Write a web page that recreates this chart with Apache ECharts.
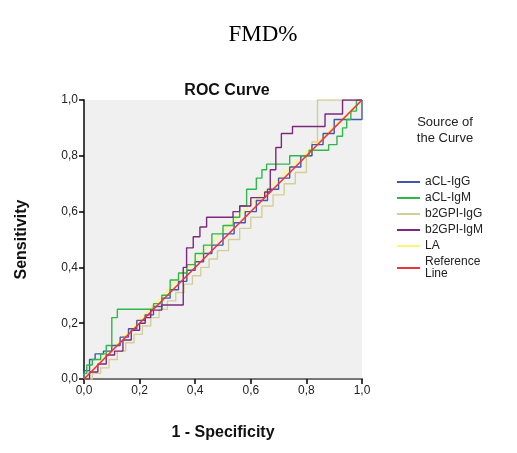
<!DOCTYPE html>
<html><head><meta charset="utf-8">
<script src="https://cdn.jsdelivr.net/npm/echarts@6/dist/echarts.min.js"></script>
<style>html,body{margin:0;padding:0;background:#fff}#c{width:517px;height:453px}</style>
</head><body><div id="c"></div>
<script>
const seriesNames = ['aCL-IgG','aCL-IgM','b2GPI-IgG','b2GPI-IgM','LA','Reference Line'];
const seriesColors = ['#3E58AC','#2EB848','#D3CE97','#7C287D','#FBF873','#EF3338'];
const tickValues = [0,0.2,0.4,0.6,0.8,1.0];

const aclIgG = [[0,0],[0,0.03],[0.02,0.03],[0.02,0.07],[0.04,0.07],[0.04,0.09],[0.07,0.09],[0.07,0.1],[0.1,0.1],[0.1,0.12],[0.13,0.12],[0.13,0.15],[0.16,0.15],[0.16,0.18],[0.19,0.18],[0.19,0.21],[0.22,0.21],[0.22,0.23],[0.25,0.23],[0.25,0.26],[0.28,0.26],[0.28,0.29],[0.31,0.29],[0.31,0.32],[0.34,0.32],[0.34,0.35],[0.37,0.35],[0.37,0.39],[0.4,0.39],[0.4,0.42],[0.43,0.42],[0.43,0.45],[0.46,0.45],[0.46,0.48],[0.5,0.48],[0.5,0.52],[0.54,0.52],[0.54,0.56],[0.58,0.56],[0.58,0.6],[0.62,0.6],[0.62,0.64],[0.66,0.64],[0.66,0.68],[0.7,0.68],[0.7,0.72],[0.74,0.72],[0.74,0.76],[0.78,0.76],[0.78,0.8],[0.82,0.8],[0.82,0.84],[0.86,0.84],[0.86,0.88],[0.9,0.88],[0.9,0.93],[1,0.93],[1,1]];
const aclIgM = [[0,0],[0,0.02],[0.01,0.02],[0.01,0.05],[0.03,0.05],[0.03,0.07],[0.06,0.07],[0.06,0.09],[0.08,0.09],[0.08,0.12],[0.1,0.12],[0.1,0.22],[0.12,0.22],[0.12,0.25],[0.25,0.25],[0.25,0.27],[0.28,0.27],[0.28,0.3],[0.31,0.3],[0.31,0.355],[0.34,0.355],[0.34,0.38],[0.37,0.38],[0.37,0.41],[0.4,0.41],[0.4,0.45],[0.43,0.45],[0.43,0.48],[0.46,0.48],[0.46,0.52],[0.5,0.52],[0.5,0.55],[0.537,0.55],[0.537,0.58],[0.56,0.58],[0.56,0.62],[0.585,0.62],[0.585,0.68],[0.62,0.68],[0.62,0.72],[0.64,0.72],[0.64,0.75],[0.657,0.75],[0.657,0.77],[0.74,0.77],[0.74,0.8],[0.81,0.8],[0.81,0.82],[0.88,0.82],[0.88,0.84],[0.91,0.84],[0.91,0.87],[0.93,0.87],[0.93,0.9],[0.945,0.9],[0.945,0.93],[0.96,0.93],[0.96,0.96],[0.98,0.96],[0.98,1],[1,1]];
const b2gpiIgG = [[0,0],[0.03,0],[0.03,0.02],[0.06,0.02],[0.06,0.04],[0.09,0.04],[0.09,0.07],[0.12,0.07],[0.12,0.1],[0.15,0.1],[0.15,0.13],[0.18,0.13],[0.18,0.16],[0.21,0.16],[0.21,0.19],[0.24,0.19],[0.24,0.22],[0.27,0.22],[0.27,0.25],[0.3,0.25],[0.3,0.28],[0.33,0.28],[0.33,0.31],[0.36,0.31],[0.36,0.34],[0.39,0.34],[0.39,0.37],[0.42,0.37],[0.42,0.4],[0.45,0.4],[0.45,0.43],[0.48,0.43],[0.48,0.46],[0.52,0.46],[0.52,0.5],[0.56,0.5],[0.56,0.54],[0.6,0.54],[0.6,0.58],[0.64,0.58],[0.64,0.62],[0.68,0.62],[0.68,0.66],[0.72,0.66],[0.72,0.7],[0.76,0.7],[0.76,0.74],[0.8,0.74],[0.8,0.8],[0.82,0.8],[0.82,0.85],[0.84,0.85],[0.84,1],[1,1]];
const b2gpiIgM = [[0,0],[0.02,0],[0.02,0.025],[0.05,0.025],[0.05,0.054],[0.08,0.054],[0.08,0.086],[0.11,0.086],[0.11,0.1],[0.14,0.1],[0.14,0.14],[0.17,0.14],[0.17,0.175],[0.2,0.175],[0.2,0.2],[0.22,0.2],[0.22,0.22],[0.24,0.22],[0.24,0.247],[0.28,0.247],[0.28,0.265],[0.357,0.265],[0.357,0.4],[0.369,0.4],[0.369,0.47],[0.393,0.47],[0.393,0.51],[0.417,0.51],[0.417,0.545],[0.441,0.545],[0.441,0.58],[0.536,0.58],[0.536,0.6],[0.56,0.6],[0.56,0.62],[0.6,0.62],[0.6,0.65],[0.65,0.65],[0.65,0.67],[0.67,0.67],[0.67,0.75],[0.69,0.75],[0.69,0.83],[0.71,0.83],[0.71,0.88],[0.75,0.88],[0.75,0.905],[0.867,0.905],[0.867,0.95],[0.93,0.95],[0.93,1],[1,1]];
const la = [[0,0],[0.5,0.53],[1,1]];
const refLine = [[0,0],[1,1]];
const curveData = [aclIgG, aclIgM, b2gpiIgG, b2gpiIgM, la, refLine];

const fmt = v => v.toFixed(1).replace('.', ',');
const chart = echarts.init(document.getElementById('c'), null, {renderer:'canvas'});
const series = seriesNames.map((n,i) => ({
  name:n, type:'line', data:curveData[i], symbol:'none', showSymbol:false,
  lineStyle:{color:seriesColors[i], width: i===5 ? 1.6 : 1.4},
  itemStyle:{color:seriesColors[i]}, silent:true, animation:false,
  z: [3,4,2,5,1,6][i]
}));
chart.setOption({
  animation:false,
  title:[
    {text:'FMD%', left:258, top:18, textAlign:'center', textStyle:{fontFamily:'Liberation Serif', fontWeight:'normal', fontSize:23, color:'#000'}},
    {text:'ROC Curve', left:222, top:78, textAlign:'center', textStyle:{fontFamily:'Liberation Sans', fontWeight:'bold', fontSize:16, color:'#111'}}
  ],
  grid:{left:84, right:155, top:100, bottom:74, show:true, backgroundColor:'#F0F0F0', borderWidth:0},
  xAxis:[
    {type:'value', min:0, max:1, interval:0.2, name:'1 - Specificity', nameLocation:'middle', nameGap:46,
     nameTextStyle:{fontFamily:'Liberation Sans', fontWeight:'bold', fontSize:16, color:'#111'},
     axisLine:{show:true, lineStyle:{color:'#000', width:1.5}}, axisTick:{show:true, length:5, lineStyle:{color:'#000', width:1.5}},
     axisLabel:{formatter:fmt, fontFamily:'Liberation Sans', fontSize:12, color:'#222', margin:6}, splitLine:{show:false}},
    {type:'value', min:0, max:1, position:'top', axisLine:{show:true, lineStyle:{color:'#8a8a8a', width:1.5}}, axisTick:{show:false}, axisLabel:{show:false}, splitLine:{show:false}}
  ],
  yAxis:[
    {type:'value', min:0, max:1, interval:0.2, name:'Sensitivity', nameLocation:'middle', nameGap:54, nameRotate:90,
     nameTextStyle:{fontFamily:'Liberation Sans', fontWeight:'bold', fontSize:16, color:'#111'},
     axisLine:{show:true, lineStyle:{color:'#000', width:1.5}}, axisTick:{show:true, length:5, lineStyle:{color:'#000', width:1.5}},
     axisLabel:{formatter:fmt, fontFamily:'Liberation Sans', fontSize:12, color:'#222', margin:6}, splitLine:{show:false}},
    {type:'value', min:0, max:1, position:'right', axisLine:{show:true, lineStyle:{color:'#444', width:1.5}}, axisTick:{show:false}, axisLabel:{show:false}, splitLine:{show:false}}
  ],
  legend:{
    data:seriesNames.map(n => ({name:n, icon:'rect'})), orient:'vertical', left:392, top:171, itemWidth:23, itemHeight:2, itemGap:4,
    formatter: n => n === 'Reference Line' ? 'Reference\nLine' : n,
    textStyle:{fontFamily:'Liberation Sans', fontSize:12, color:'#222', lineHeight:12},
    selectedMode:false
  },
  graphic:[
    {type:'text', x:445, y:114, style:{text:'Source of\nthe Curve', font:'13px "Liberation Sans"', fill:'#222', align:'center', lineHeight:16}}
  ],
  series: series
});
</script></body></html>
